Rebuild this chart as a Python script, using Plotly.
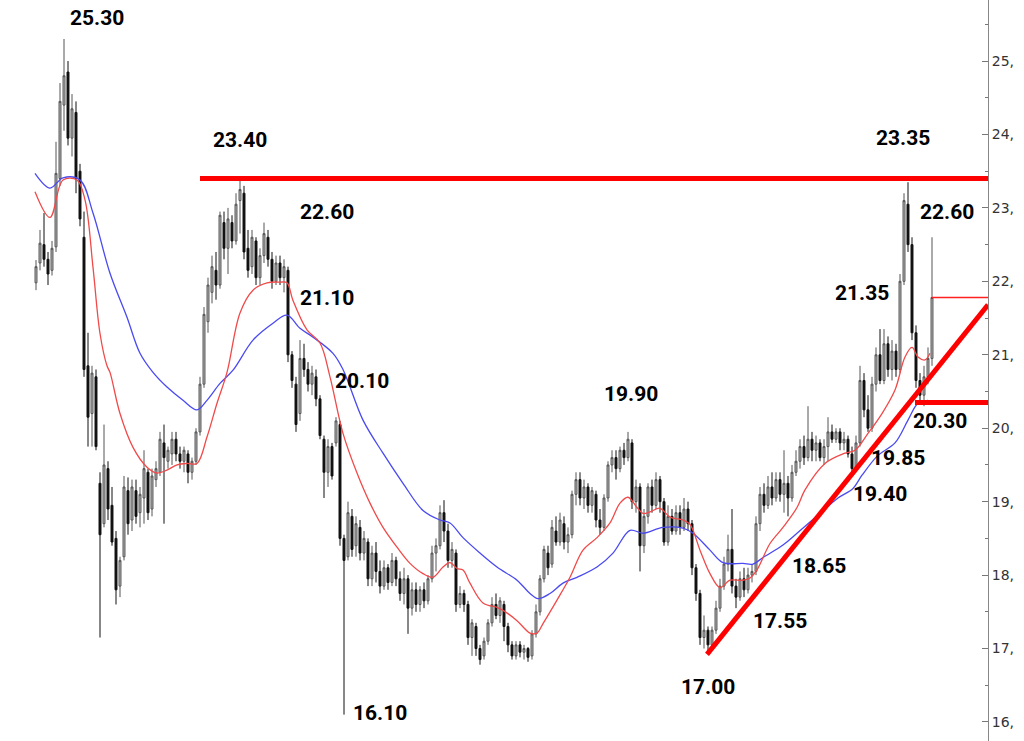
import plotly.graph_objects as go

# ---------------- data ----------------
bar_open = [
    21.98, 22.25, 22.50, 22.30, 22.15, 22.47, 23.40, 24.40, 24.85, 23.95,
    24.30, 23.50, 22.60, 20.85, 20.20, 20.70, 19.25, 18.70, 19.45, 18.95,
    18.50, 17.85, 18.25, 19.15, 18.75, 19.15, 18.85, 19.05, 19.40, 18.90,
    19.30, 19.40, 19.80, 19.55, 19.65, 19.85, 19.65, 19.55, 19.65, 19.40,
    19.55, 19.95, 20.60, 21.45, 21.85, 22.15, 21.95, 22.80, 22.45, 22.80,
    22.55, 23.10, 23.20, 22.45, 22.20, 22.55, 22.05, 22.35, 22.60, 22.30,
    22.00, 22.25, 22.05, 22.15, 21.00, 20.60, 20.20, 20.95, 20.80, 20.60,
    20.70, 20.40, 19.85, 19.40, 19.75, 19.80, 20.05, 18.50, 18.25, 18.80,
    18.40, 18.65, 18.30, 18.45, 17.95, 18.30, 18.05, 17.85, 18.10, 17.90,
    18.20, 17.95, 17.75, 17.95, 17.55, 17.80, 17.60, 17.80, 17.65, 17.95,
    18.30, 18.40, 18.85, 18.60, 18.20, 18.30, 17.60, 17.75, 17.60, 17.15,
    17.30, 17.00, 16.90, 17.10, 17.35, 17.60, 17.45, 17.60, 17.30, 17.05,
    16.90, 17.05, 16.95, 17.00, 16.90, 17.20, 17.50, 17.95, 18.30, 18.15,
    18.60, 18.45, 18.70, 18.45, 18.55, 19.10, 19.30, 19.05, 19.20, 18.95,
    19.10, 18.75, 18.65, 19.05, 19.50, 19.60, 19.45, 19.70, 19.60, 19.80,
    19.00, 19.20, 18.40, 18.80, 19.20, 18.95, 19.30, 19.00, 18.45, 18.80,
    18.60, 18.85, 18.65, 18.90, 18.70, 18.10, 17.75, 17.15, 17.25, 17.05,
    17.25, 17.55, 17.85, 18.15, 18.35, 17.85, 17.70, 17.95, 17.80, 18.00,
    18.05, 18.70, 19.10, 18.95, 19.20, 19.05, 19.30, 19.10, 19.25, 19.05,
    19.40, 19.55, 19.75, 19.60, 19.85, 19.70, 19.80, 19.60, 19.75, 19.95,
    19.85, 19.95, 19.80, 19.85, 19.65, 19.45, 19.80, 20.65, 20.25, 20.00,
    20.60, 21.00, 20.65, 21.15, 20.80, 21.05, 20.80, 22.00, 23.05, 22.50,
    21.30, 20.65, 20.45, 20.70, 20.95,
]
bar_high = [
    22.29, 22.70, 22.93, 22.40, 22.55, 23.90, 24.70, 25.30, 25.00, 24.55,
    24.45, 23.60, 22.95, 21.30, 20.85, 20.80, 19.40, 20.05, 19.55, 19.20,
    18.60, 18.25, 19.35, 19.33, 19.30, 19.30, 19.20, 19.70, 19.45, 19.45,
    19.55, 19.95, 20.05, 19.75, 19.95, 19.95, 19.75, 19.75, 19.70, 19.60,
    20.00, 20.70, 21.65, 22.05, 22.35, 22.40, 22.95, 22.95, 23.00, 22.90,
    23.20, 23.40, 23.30, 22.70, 22.70, 22.60, 22.45, 22.80, 22.70, 22.40,
    22.35, 22.35, 22.30, 22.20, 21.05, 20.70, 21.20, 21.15, 20.90, 20.85,
    20.80, 20.45, 19.90, 19.85, 19.80, 20.15, 20.10, 18.55, 19.00, 18.90,
    18.80, 18.75, 18.60, 18.50, 18.40, 18.45, 18.20, 18.20, 18.15, 18.30,
    18.25, 18.05, 18.10, 18.00, 17.90, 17.90, 17.85, 17.90, 18.00, 18.40,
    18.50, 18.95, 19.02, 18.70, 18.45, 18.35, 17.85, 17.80, 17.65, 17.40,
    17.35, 17.05, 17.15, 17.40, 17.70, 17.75, 17.70, 17.65, 17.35, 17.10,
    17.10, 17.10, 17.05, 17.02, 17.25, 17.60, 18.00, 18.40, 18.40, 18.75,
    18.80, 18.85, 18.80, 18.65, 19.15, 19.40, 19.40, 19.30, 19.25, 19.20,
    19.15, 18.90, 19.10, 19.55, 19.70, 19.70, 19.75, 19.80, 19.95, 19.85,
    19.30, 19.25, 18.90, 19.25, 19.30, 19.40, 19.35, 19.05, 18.95, 18.90,
    18.95, 18.95, 19.05, 19.00, 18.75, 18.15, 17.80, 17.45, 17.30, 17.30,
    17.65, 17.95, 18.25, 18.55, 18.90, 17.95, 18.05, 18.10, 18.10, 18.15,
    18.80, 19.20, 19.25, 19.35, 19.40, 19.40, 19.40, 19.70, 19.35, 19.50,
    19.70, 19.85, 19.90, 20.30, 19.95, 19.90, 19.85, 19.85, 20.15, 20.05,
    20.00, 20.00, 19.95, 19.90, 19.75, 19.90, 20.85, 20.75, 20.45, 20.70,
    21.10, 21.35, 21.35, 21.25, 21.20, 21.15, 22.10, 23.20, 23.35, 22.60,
    21.40, 20.75, 20.85, 21.10, 22.60,
]
bar_low = [
    21.88, 22.15, 22.20, 21.95, 22.08, 22.40, 23.30, 24.05, 23.85, 23.70,
    23.20, 22.75, 20.70, 19.75, 19.75, 19.70, 17.15, 18.65, 18.75, 18.40,
    17.60, 17.70, 18.20, 18.55, 18.60, 18.70, 18.65, 18.70, 18.75, 18.80,
    19.20, 19.35, 18.70, 19.45, 19.50, 19.55, 19.45, 19.40, 19.25, 19.30,
    19.50, 19.90, 20.55, 21.30, 21.70, 21.75, 21.90, 22.30, 22.10, 22.45,
    22.50, 22.65, 22.30, 22.05, 22.10, 21.95, 21.95, 22.25, 22.20, 21.90,
    21.95, 21.95, 21.85, 20.90, 20.55, 19.95, 20.10, 20.70, 20.50, 20.45,
    20.30, 19.85, 19.05, 19.20, 19.30, 19.75, 18.40, 16.10, 18.20, 18.25,
    18.25, 18.20, 18.20, 17.85, 17.85, 17.90, 17.75, 17.80, 17.80, 17.85,
    17.85, 17.65, 17.60, 17.20, 17.45, 17.50, 17.50, 17.55, 17.60, 17.90,
    18.05, 18.35, 18.45, 18.10, 18.10, 17.50, 17.55, 17.50, 17.05, 16.90,
    16.90, 16.78, 16.85, 17.05, 17.30, 17.40, 17.35, 17.10, 16.95, 16.85,
    16.85, 16.88, 16.85, 16.82, 16.85, 17.15, 17.45, 17.90, 18.00, 18.10,
    18.40, 18.40, 18.35, 18.30, 18.50, 18.95, 18.95, 18.90, 18.85, 18.85,
    18.65, 18.55, 18.60, 19.00, 19.40, 19.30, 19.40, 19.50, 19.55, 18.90,
    18.85, 18.05, 18.30, 18.70, 18.85, 18.90, 18.85, 18.40, 18.40, 18.55,
    18.55, 18.55, 18.60, 18.60, 18.00, 17.65, 17.05, 17.00, 16.95, 17.00,
    17.20, 17.50, 17.80, 18.05, 17.75, 17.55, 17.65, 17.70, 17.75, 17.90,
    18.00, 18.60, 18.85, 18.90, 18.95, 19.00, 19.00, 18.85, 18.80, 19.00,
    19.35, 19.45, 19.50, 19.55, 19.55, 19.55, 19.55, 19.50, 19.55, 19.80,
    19.80, 19.70, 19.70, 19.60, 19.40, 19.40, 19.75, 20.15, 19.95, 19.95,
    20.50, 20.60, 20.60, 20.70, 20.65, 20.70, 20.75, 21.95, 22.40, 21.20,
    20.55, 20.35, 20.30, 20.60, 20.85,
]
bar_close = [
    22.20, 22.52, 22.30, 22.10, 22.45, 23.47, 24.45, 24.80, 23.95, 24.35,
    23.40, 22.85, 20.80, 20.15, 20.75, 19.75, 18.55, 19.50, 18.90, 18.45,
    17.80, 18.20, 19.20, 18.70, 19.20, 18.80, 19.10, 19.45, 18.85, 19.35,
    19.45, 19.85, 19.60, 19.70, 19.85, 19.65, 19.55, 19.70, 19.40, 19.55,
    19.95, 20.60, 21.55, 21.95, 22.20, 21.95, 22.90, 22.45, 22.85, 22.55,
    23.05, 23.25, 22.40, 22.15, 22.60, 22.05, 22.35, 22.65, 22.30, 22.00,
    22.25, 22.05, 22.20, 21.00, 20.65, 20.05, 20.95, 20.80, 20.60, 20.75,
    20.40, 19.90, 19.40, 19.75, 19.35, 20.10, 18.50, 18.20, 18.85, 18.35,
    18.70, 18.30, 18.50, 17.95, 18.30, 18.05, 17.85, 18.10, 17.90, 18.20,
    17.95, 17.75, 17.95, 17.55, 17.80, 17.60, 17.80, 17.65, 17.95, 18.30,
    18.40, 18.85, 18.60, 18.20, 18.35, 17.60, 17.75, 17.60, 17.15, 17.35,
    17.00, 16.85, 17.10, 17.35, 17.60, 17.45, 17.65, 17.30, 17.05, 16.90,
    17.05, 16.95, 17.00, 16.88, 17.20, 17.50, 17.95, 18.35, 18.10, 18.65,
    18.45, 18.75, 18.45, 18.55, 19.10, 19.30, 19.05, 19.20, 18.95, 19.15,
    18.75, 18.65, 19.05, 19.50, 19.60, 19.45, 19.70, 19.60, 19.85, 19.00,
    19.20, 18.40, 18.80, 19.20, 18.95, 19.30, 19.00, 18.45, 18.80, 18.60,
    18.85, 18.65, 18.90, 18.70, 18.10, 17.75, 17.15, 17.25, 17.05, 17.25,
    17.55, 17.85, 18.15, 18.35, 17.85, 17.70, 17.95, 17.80, 18.00, 18.05,
    18.70, 19.10, 18.95, 19.20, 19.05, 19.30, 19.10, 19.25, 19.05, 19.40,
    19.55, 19.75, 19.60, 19.85, 19.70, 19.80, 19.60, 19.75, 19.95, 19.85,
    19.95, 19.80, 19.85, 19.65, 19.45, 19.80, 20.65, 20.25, 20.00, 20.60,
    21.00, 20.65, 21.15, 20.80, 21.05, 20.80, 22.00, 23.10, 22.50, 21.30,
    20.65, 20.45, 20.70, 20.95, 21.78,
]

# fast (red) and slow (blue) moving averages, sampled at bar positions
ma_fast_x = [-0.25, 3.5, 6.75, 10.25, 12.25, 14.25, 16, 17.75, 18.5, 21, 24.25, 27.75,
             30.25, 32.75, 35.25, 37.75, 40.25, 42.75, 45.25, 47.75, 51, 54.25, 57.75,
             61, 62.75, 64.25, 67.75, 71, 73.5, 76.75, 80.25, 83.5, 86.75, 90.25, 93.5,
             96.75, 99.25, 101.75, 103.5, 105.25, 106.75, 108.5, 111.75, 115.25, 116.75,
             120.25, 123.5, 125.25, 126.75, 130.25, 133.5, 136.75, 140.25, 143.5, 146,
             148, 150.25, 151.75, 153.5, 156, 158.5, 161.75, 163.5, 166, 168.5, 171,
             173.5, 176.75, 178.5, 180.25, 183.5, 186.75, 190.25, 192.25, 197.25,
             202.25, 204.75, 208, 211.5, 214.75, 217.25, 219, 220.5, 222.25, 223.5]
ma_fast_y = [23.22, 22.87, 23.38, 23.38, 23.11, 22.19, 21.29, 20.85, 20.76, 20.20, 19.74,
             19.47, 19.39, 19.43, 19.50, 19.52, 19.52, 19.88, 20.34, 20.76, 21.57, 21.88,
             21.98, 21.99, 21.98, 21.74, 21.34, 21.16, 20.70, 19.93, 19.39, 18.98, 18.65,
             18.38, 18.16, 18.02, 17.97, 18.11, 18.17, 18.09, 18.07, 17.89, 17.62, 17.56,
             17.52, 17.38, 17.21, 17.21, 17.34, 17.66, 17.97, 18.34, 18.51, 18.71, 18.98,
             19.06, 18.92, 18.84, 18.86, 18.91, 18.79, 18.75, 18.69, 18.34, 18.02, 17.83,
             17.93, 17.93, 17.96, 18.07, 18.43, 18.65, 18.92, 19.16, 19.52, 19.66, 19.70,
             19.93, 20.20, 20.52, 20.97, 21.10, 20.97, 20.93, 21.02]

ma_slow_x = [-0.25, 3.5, 6.75, 11, 14.25, 18.5, 22.75, 26, 29.25, 32.75, 36.75, 40.25,
             42.75, 46, 49.25, 54.25, 59.25, 62.75, 66, 69.25, 74.25, 76.75, 81.75,
             86.75, 91.75, 96.75, 101, 103.5, 106.75, 111, 115.25, 120.25, 123.5, 125.5,
             128.5, 131.75, 135.25, 140.25, 144.25, 148.5, 151.75, 156.75, 161.75,
             164.25, 168.5, 171.75, 176.75, 179.25, 181.75, 186.75, 190.25, 196, 200.5,
             204.25, 206.5, 210.5, 214.75, 218, 220.5, 223]
ma_slow_y = [23.47, 23.27, 23.41, 23.38, 22.93, 22.11, 21.51, 21.02, 20.76, 20.56, 20.38,
             20.25, 20.38, 20.61, 20.79, 21.20, 21.43, 21.54, 21.36, 21.24, 21.02, 20.80,
             20.11, 19.66, 19.25, 18.88, 18.75, 18.71, 18.51, 18.30, 18.11, 17.93, 17.75,
             17.68, 17.75, 17.89, 17.97, 18.11, 18.30, 18.61, 18.57, 18.65, 18.64, 18.57,
             18.34, 18.17, 18.16, 18.15, 18.24, 18.41, 18.57, 18.84, 19.05, 19.18, 19.36,
             19.63, 19.80, 20.11, 20.34, 20.38]

resistance_level = 23.40
resistance_x = [41, 238]
support_level = 20.35
support_x = [219.75, 238]
last_close_x = [224, 238]
trend_x = [167.75, 238]
trend_y = [16.92, 21.68]

label_text = ["25.30", "23.40", "22.60", "21.10", "20.10", "16.10", "19.90", "17.00",
              "17.55", "18.65", "19.40", "19.85", "20.30", "21.35", "23.35", "22.60"]
label_x = [15.25, 51, 72.75, 72.75, 81.5, 86, 148.75, 168, 186, 195.75, 211, 215.5,
           226, 206.5, 216.75, 227.75]
label_y = [25.59, 23.92, 22.94, 21.77, 20.64, 16.12, 20.46, 16.48, 17.38, 18.13, 19.10,
           19.59, 20.10, 21.84, 23.95, 22.94]

y_ticks = [16, 17, 18, 19, 20, 21, 22, 23, 24, 25]
y_tick_text = ["16,", "17,", "18,", "19,", "20,", "21,", "22,", "23,", "24,", "25,"]
y_minor = [15.5, 16.5, 17.5, 18.5, 19.5, 20.5, 21.5, 22.5, 23.5, 24.5, 25.5]

# ---------------- figure ----------------
bar_x = list(range(len(bar_close)))

fig = go.Figure()

fig.add_trace(go.Scatter(x=ma_slow_x, y=ma_slow_y, mode="lines",
                         line=dict(color="#4a4af0", width=1.3, shape="spline"),
                         hoverinfo="skip"))
fig.add_trace(go.Scatter(x=ma_fast_x, y=ma_fast_y, mode="lines",
                         line=dict(color="#f04a4a", width=1.3, shape="spline"),
                         hoverinfo="skip"))

fig.add_trace(go.Candlestick(
    x=bar_x, open=bar_open, high=bar_high, low=bar_low, close=bar_close,
    increasing=dict(line=dict(color="#555555", width=1), fillcolor="#b5b5b5"),
    decreasing=dict(line=dict(color="#111111", width=1), fillcolor="#111111"),
    whiskerwidth=0, hoverinfo="skip"))

fig.add_trace(go.Scatter(x=resistance_x, y=[resistance_level] * 2, mode="lines",
                         line=dict(color="#ff0000", width=5), hoverinfo="skip"))
fig.add_trace(go.Scatter(x=support_x, y=[support_level] * 2, mode="lines",
                         line=dict(color="#ff0000", width=5), hoverinfo="skip"))
fig.add_trace(go.Scatter(x=last_close_x, y=[bar_close[-1]] * 2, mode="lines",
                         line=dict(color="#ff2020", width=1.5), hoverinfo="skip"))
fig.add_trace(go.Scatter(x=trend_x, y=trend_y, mode="lines",
                         line=dict(color="#ff0000", width=5), hoverinfo="skip"))

for t, lx, ly in zip(label_text, label_x, label_y):
    fig.add_annotation(x=lx, y=ly, text="<b>" + t + "</b>", showarrow=False,
                       font=dict(family="Roboto", size=21, color="#000000"),
                       xanchor="center", yanchor="middle")

fig.update_layout(
    width=1024, height=741,
    margin=dict(l=0, r=36, t=0, b=0),
    paper_bgcolor="white", plot_bgcolor="white",
    showlegend=False, hovermode=False,
    xaxis=dict(range=[-9, 238], visible=False, rangeslider=dict(visible=False),
               showgrid=False, zeroline=False),
    yaxis=dict(range=[15.741, 25.831], side="right", showgrid=False, zeroline=False,
               tickvals=y_ticks, ticktext=y_tick_text, ticks="inside", ticklen=6,
               tickcolor="#777777", showline=True, linecolor="#888888", linewidth=1,
               tickfont=dict(family="DejaVu Sans", size=14, color="#333333"),
               minor=dict(tickvals=y_minor, ticks="inside", ticklen=3,
                          tickcolor="#777777")),
)

fig.write_html("out.html",
               config={"displayModeBar": False},
               post_script="document.body.style.margin='0';"
                           "document.body.style.overflow='hidden';")
